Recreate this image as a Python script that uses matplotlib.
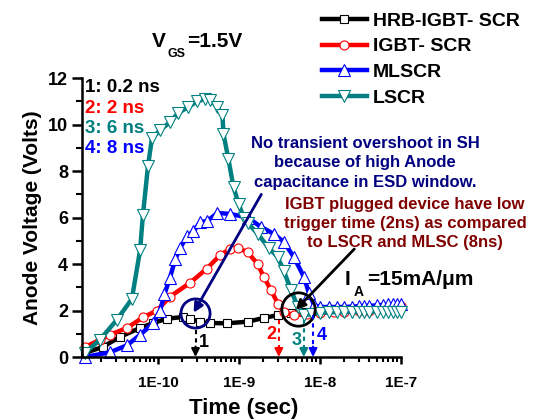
import matplotlib
matplotlib.use('Agg')
import matplotlib.pyplot as plt

plt.rcParams['font.family'] = ['Liberation Sans', 'DejaVu Sans']
plt.rcParams['font.weight'] = 'bold'

# data (time in s, anode voltage in V)
t_hrb = [1.24e-11, 2.07e-11, 3.37e-11, 5.98e-11, 8.67e-11, 1.29e-10, 2.05e-10, 2.5e-10,
         3.32e-10, 4.43e-10, 7.2e-10, 1.28e-9, 2.02e-9, 3.01e-9, 4.36e-9, 6.3e-9]
v_hrb = [0.17, 0.43, 0.86, 1.25, 1.46, 1.65, 1.72, 1.65,
         1.5, 1.46, 1.45, 1.52, 1.68, 1.8, 1.9, 1.95]

t_igbt = [1.24e-11, 1.9e-11, 2.53e-11, 4.12e-11, 6.5e-11, 9.7e-11, 1.41e-10, 2.5e-10,
          4.0e-10, 5.9e-10, 7.8e-10, 9.6e-10, 1.28e-9, 1.7e-9, 2.02e-9, 2.46e-9,
          3.01e-9, 3.57e-9, 4.75e-9, 7e-9, 1e-8, 1.5e-8, 2e-8, 3e-8, 4e-8, 5e-8,
          6e-8, 7e-8, 8e-8, 9e-8, 1e-7]
v_igbt = [0.43, 0.73, 0.95, 1.25, 1.7, 2.0, 2.6, 3.2,
          3.8, 4.4, 4.65, 4.7, 4.5, 4.0, 3.44, 2.9,
          2.3, 1.94, 1.8, 1.85, 1.9, 1.92, 1.95, 1.98, 2.0, 2.05,
          2.08, 2.1, 2.13, 2.17, 2.2]

t_ml = [1.24e-11, 2.53e-11, 4.12e-11, 5.98e-11, 8.67e-11, 1.06e-10, 1.2e-10, 1.4e-10,
        1.63e-10, 1.88e-10, 2.29e-10, 2.72e-10, 3.32e-10, 4.06e-10, 5.41e-10, 7.84e-10,
        1.28e-9, 1.85e-9, 2.68e-9, 3.57e-9, 4.75e-9, 6.33e-9, 7.3e-9, 8.42e-9, 1e-8,
        1.3e-8, 1.6e-8, 2e-8, 2.5e-8, 3e-8, 3.5e-8, 4e-8, 5e-8, 6e-8, 7e-8, 8e-8, 9e-8, 1e-7]
v_ml = [0.0, 0.2, 0.5, 0.95, 1.45, 2.0, 2.7, 3.4,
        4.2, 4.7, 5.2, 5.4, 5.8, 5.85, 6.2, 6.15,
        6.0, 5.6, 5.3, 4.95, 4.3, 3.44, 2.75, 2.24, 2.15,
        2.15, 2.15, 2.15, 2.17, 2.18, 2.2, 2.2, 2.22, 2.24, 2.26, 2.27, 2.29, 2.3]

t_ls = [1.24e-11, 1.9e-11, 3.1e-11, 4.75e-11, 6.0e-11, 6.5e-11, 7.5e-11, 8.4e-11,
        1.06e-10, 1.41e-10, 1.77e-10, 2.36e-10, 3.05e-10, 3.84e-10, 4.43e-10, 5.41e-10,
        6.24e-10, 6.42e-10, 7.4e-10, 8.55e-10, 9.86e-10, 1.14e-9, 1.28e-9, 1.7e-9,
        2.32e-9, 3.01e-9, 3.57e-9, 4.36e-9, 5.33e-9, 6.33e-9, 8e-9, 1e-8,
        1.3e-8, 1.6e-8, 2e-8, 2.5e-8, 3e-8, 3.5e-8, 4e-8, 5e-8, 6e-8, 7e-8, 8e-8, 9e-8, 1e-7]
v_ls = [0.17, 0.73, 1.6, 2.5, 4.6, 6.1, 8.2, 9.4,
        9.76, 10.1, 10.5, 10.75, 11.0, 11.1, 11.05, 10.75,
        10.4, 9.6, 8.5, 7.3, 6.6, 6.0, 5.76, 5.3,
        4.7, 4.3, 3.7, 2.9, 2.15, 1.8, 1.85, 1.9,
        1.92, 1.94, 1.95, 1.95, 1.95, 1.95, 1.95, 1.95, 1.95, 1.95, 1.95, 1.95, 1.95]

# trigger times marked with arrows
trig_t = [2.9e-10, 3.1e-9, 6.3e-9, 8.2e-9]
trig_top = [1.15, 1.6, 1.6, 1.8]
trig_lbl = ['1', '2', '3', '4']

W, H = 539, 419
def fx(px):
    return px / W
def fy(py):
    return 1 - py / H

TEAL = '#008080'
NAVY = '#000080'
DRED = '#800000'

fig = plt.figure(figsize=(W / 100, H / 100), dpi=100)
ax = fig.add_axes([fx(82), fy(357), (401 - 82) / W, (357 - 78) / H])

series = [
    (t_hrb, v_hrb, 'black', 's', 6.0, 'HRB-IGBT- SCR'),
    (t_igbt, v_igbt, 'red', 'o', 6.5, 'IGBT- SCR'),
    (t_ml, v_ml, 'blue', '^', 8, 'MLSCR'),
    (t_ls, v_ls, TEAL, 'v', 8, 'LSCR'),
]
for t, v, c, m, ms, lab in series:
    ax.plot(t, v, color=c, lw=3.2, marker=m, ms=ms, mfc='white', mec=c, mew=0.8,
            label=lab, clip_on=False)

ax.set_xscale('log')
ax.set_xlim(1.15e-11, 1e-7)
ax.set_ylim(0, 12)
ax.set_yticks([0, 2, 4, 6, 8, 10, 12])
ax.set_yticks([1, 3, 5, 7, 9, 11], minor=True)
ax.set_xticks([1e-10, 1e-9, 1e-8, 1e-7])
ax.set_xticklabels(['1E-10', '1E-9', '1E-8', '1E-7'])
ax.tick_params(axis='y', which='major', length=7, width=1.8, labelsize=13, pad=3)
ax.tick_params(axis='y', which='minor', length=4, width=1.5)
ax.tick_params(axis='x', which='major', length=5, width=1.8, labelsize=11, pad=9)
ax.tick_params(axis='x', which='minor', length=3.5, width=1.5)
for s in ['top', 'right']:
    ax.spines[s].set_visible(False)
for s in ['left', 'bottom']:
    ax.spines[s].set_linewidth(1.8)
for lbl in ax.get_xticklabels() + ax.get_yticklabels():
    lbl.set_fontweight('bold')

ax.set_ylabel('Anode Voltage (Volts)', fontsize=15, fontweight='bold', labelpad=4)
fig.text(fx(244), fy(408), 'Time (sec)', fontsize=16, fontweight='bold',
         ha='center', va='center')

# title V_GS = 1.5V
fig.text(fx(152), fy(47), 'V', fontsize=15, fontweight='bold', va='baseline')
fig.text(fx(168), fy(57), 'GS', fontsize=9, fontweight='bold', va='baseline')
fig.text(fx(187), fy(47), '=1.5V', fontsize=15, fontweight='bold', va='baseline')

# trigger-time list
for txt, c, yb in [('1: 0.2 ns', 'black', 92), ('2: 2 ns', 'red', 113),
                   ('3: 6 ns', TEAL, 133), ('4: 8 ns', 'blue', 153)]:
    fig.text(fx(85), fy(yb), txt, color=c, fontsize=13.5, fontweight='bold', va='baseline')

# note texts
for txt, yb in [('No transient overshoot in SH', 148), ('because of high Anode', 167),
                ('capacitance in ESD window.', 187)]:
    fig.text(fx(365), fy(yb), txt, color=NAVY, fontsize=12, fontweight='bold',
             ha='center', va='baseline')
for txt, yb in [('IGBT plugged device have low', 209), ('trigger time (2ns) as compared', 228),
                ('to LSCR and MLSC (8ns)', 247)]:
    fig.text(fx(405), fy(yb), txt, color=DRED, fontsize=12, fontweight='bold',
             ha='center', va='baseline')

fig.text(fx(345), fy(285), 'I', fontsize=15, fontweight='bold', va='baseline')
fig.text(fx(354), fy(296), 'A', fontsize=10, fontweight='bold', va='baseline')
fig.text(fx(367), fy(285), '=15mA/\u03bcm', fontsize=15, fontweight='bold', va='baseline')

# circles and pointers
ax.plot([2.85e-10], [1.9], marker='o', ms=21, mfc='none', mec=NAVY, mew=2)
ax.plot([5.3e-9], [2.05], marker='o', ms=24, mfc='none', mec='black', mew=2)
ax.annotate('', xy=(2.64e-10, 1.8), xytext=(1.96e-9, 7.1),
            arrowprops=dict(arrowstyle='-|>', color=NAVY, lw=2, mutation_scale=14))
ax.annotate('', xy=(4.75e-9, 1.94), xytext=(2.8e-8, 4.73),
            arrowprops=dict(arrowstyle='-|>', color='black', lw=2, mutation_scale=14))

# dashed trigger arrows
trig_c = ['black', 'red', TEAL, 'blue']
lbl_pos = [(204, 347), (271, 339), (297, 345), (322, 340)]
for t, top, c, lb, (px, py) in zip(trig_t, trig_top, trig_c, trig_lbl, lbl_pos):
    ax.plot([t, t], [top, 0.4], color=c, lw=1.5, ls=(0, (2, 2)))
    ax.annotate('', xy=(t, 0), xytext=(t, 0.45),
                arrowprops=dict(arrowstyle='-|>', color=c, lw=1.5, mutation_scale=12,
                                shrinkA=0, shrinkB=0))
    fig.text(fx(px), fy(py), lb, color=c, fontsize=13, fontweight='bold',
             ha='center', va='baseline')

leg = fig.legend(loc='upper left', bbox_to_anchor=(fx(322), fy(12)), frameon=False,
                 fontsize=14, handlelength=2.3, handletextpad=0.3, labelspacing=0.42,
                 borderpad=0, borderaxespad=0)
for txt in leg.get_texts():
    txt.set_fontweight('bold')

fig.savefig('out.png', dpi=100)
